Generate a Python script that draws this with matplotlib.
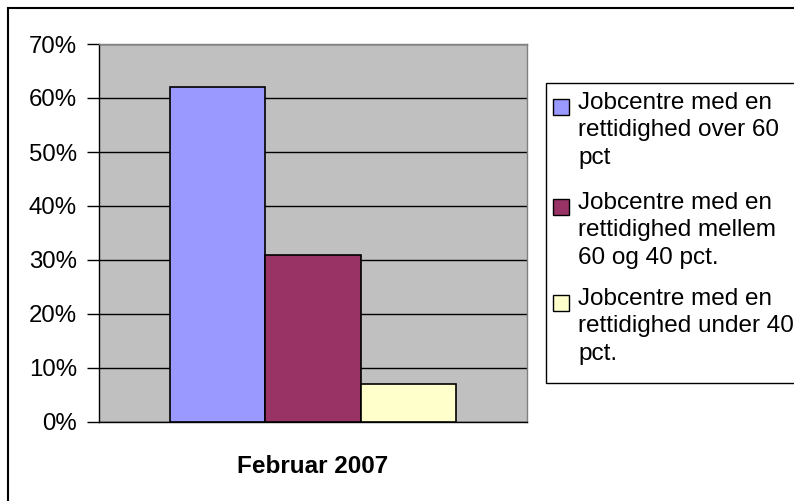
import matplotlib
matplotlib.use('Agg')
import matplotlib.pyplot as plt
import numpy as np
from matplotlib.patches import Rectangle
from matplotlib.ticker import PercentFormatter

plt.rcParams['font.family'] = ['Liberation Sans', 'DejaVu Sans']

category = 'Februar 2007'
series = ['Jobcentre med en\nrettidighed over 60\npct',
          'Jobcentre med en\nrettidighed mellem\n60 og 40 pct.',
          'Jobcentre med en\nrettidighed under 40\npct.']
values = [0.62, 0.31, 0.07]
colors = ['#9999FF', '#993366', '#FFFFCC']

W, H = 794, 501
fig = plt.figure(figsize=(W / 100, H / 100), dpi=100)


def fx(px):
    return px / W


def fy(py):
    return (H - py) / H


# outer chart border (cut off on right and bottom)
fig.add_artist(Rectangle((fx(8), -0.5), 1.0, 0.5 + fy(8), fill=False,
                         edgecolor='black', linewidth=1.5,
                         transform=fig.transFigure, clip_on=False))

ax = fig.add_axes([fx(99), fy(422), fx(527) - fx(99), fy(44) - fy(422)])
ax.set_facecolor('#C0C0C0')

w = 0.223
offsets = (np.arange(len(values)) - 1) * w
bars = []
for off, v, c in zip(offsets, values, colors):
    b = ax.bar(off, v, width=w, color=c, edgecolor='black', linewidth=1.2, zorder=3)
    bars.append(b[0])

ax.set_xlim(-0.5, 0.5)
ax.set_ylim(0, 0.7)
ax.set_yticks(np.arange(0, 0.71, 0.1))
ax.yaxis.set_major_formatter(PercentFormatter(1.0, decimals=0))
ax.set_xticks([])
ax.yaxis.grid(True, color='black', linewidth=1)
ax.set_axisbelow(True)
ax.tick_params(axis='y', length=9, width=1, pad=7, labelsize=17.3)
for s in ['left', 'bottom']:
    ax.spines[s].set_color('black')
    ax.spines[s].set_linewidth(1)
for s in ['top', 'right']:
    ax.spines[s].set_color('#808080')
    ax.spines[s].set_linewidth(1)
ax.set_xlabel(category, fontsize=17.5, fontweight='bold', labelpad=24)

# legend drawn by hand so each marker sits on the first text line
fig.add_artist(Rectangle((fx(546), fy(383)), 1.0, fy(83) - fy(383),
                         facecolor='white', edgecolor='black', linewidth=1,
                         transform=fig.transFigure, clip_on=False))
tops = [92, 192, 288]
for b, lab, t in zip(bars, series, tops):
    fig.add_artist(Rectangle((fx(553), fy(t + 23)), fx(16), fy(0) - fy(16),
                             facecolor=b.get_facecolor(), edgecolor='black',
                             linewidth=1, transform=fig.transFigure))
    fig.text(fx(578), fy(t), lab, fontsize=17.5, va='top', ha='left',
             linespacing=1.32)

fig.savefig('out.png', dpi=100)
